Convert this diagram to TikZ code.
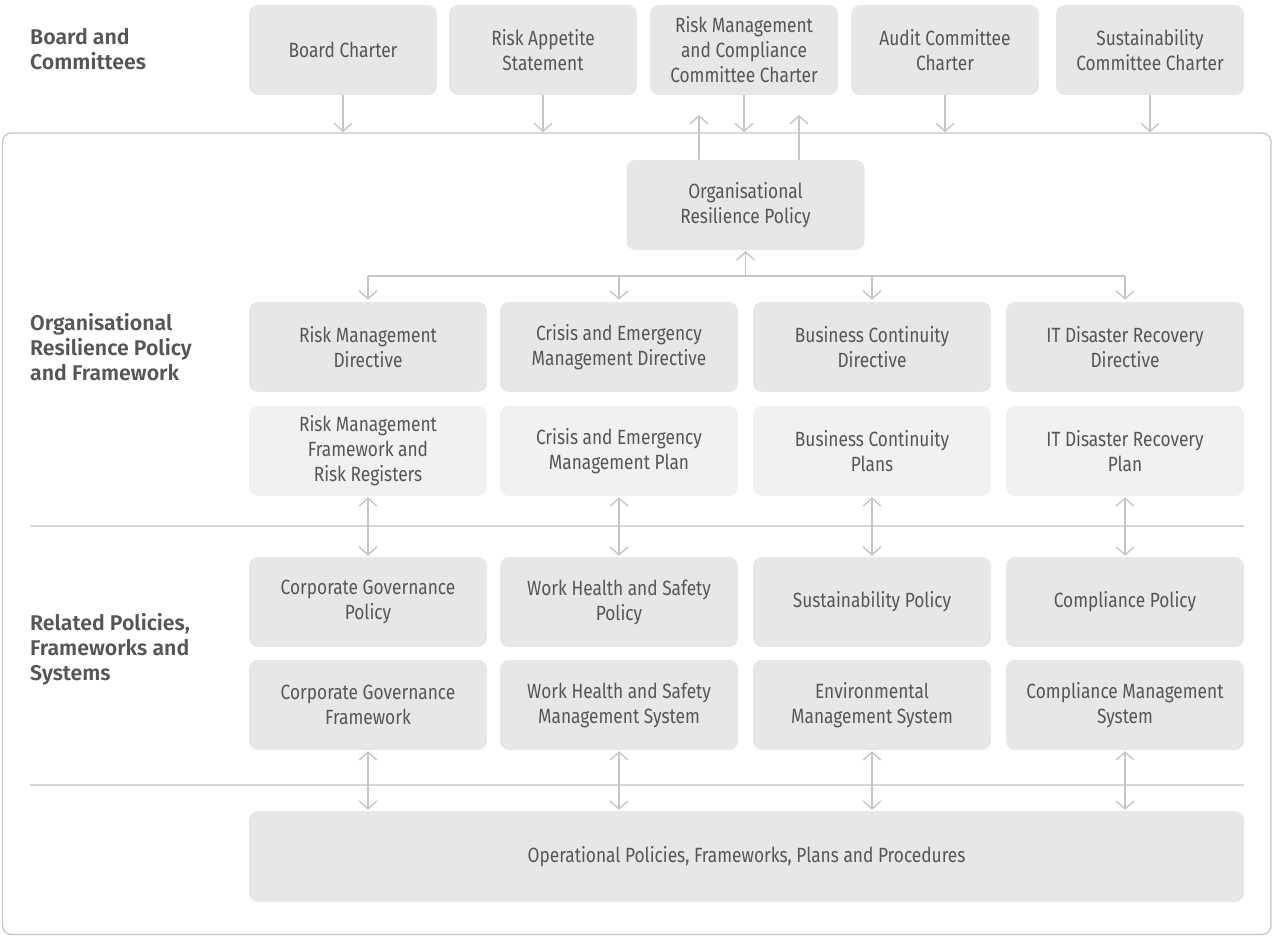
\documentclass[tikz,border=0pt]{standalone}
\usepackage{fontspec}
\setmainfont{Fira Sans}[FakeStretch=0.84]
\newfontfamily\labelfont{Fira Sans}[BoldFont={Fira Sans SemiBold}]
\usetikzlibrary{arrows.meta}
\definecolor{boxdark}{HTML}{E6E7E8}
\definecolor{boxlight}{HTML}{F1F1F2}
\definecolor{linegrey}{HTML}{C6C6C8}
\definecolor{txt}{HTML}{555658}
\tikzset{
  x=1pt, y=-1pt,
  box/.style={fill=boxdark, rounded corners=9pt, draw=none, align=center,
    text=txt, font=\fontsize{20.6}{25}\selectfont, inner sep=0pt},
  topbox/.style={box, minimum width=188pt, minimum height=90pt},
  colbox/.style={box, minimum width=238pt, minimum height=90pt},
  lightbox/.style={colbox, fill=boxlight},
  sectionlabel/.style={anchor=north west, align=left, text=txt, inner sep=0pt,
    font=\labelfont\bfseries\fontsize{21.3}{25}\selectfont},
  conn/.style={draw=linegrey, line width=1.4pt},
  arr/.style={conn, -{Straight Barb[length=8pt,width=18pt,line width=1.4pt]}},
  darr/.style={conn, {Straight Barb[length=8pt,width=18pt,line width=1.4pt]}-{Straight Barb[length=8pt,width=18pt,line width=1.4pt]}},
  sep/.style={draw=linegrey!70, line width=1.3pt}
}
\begin{document}
\begin{tikzpicture}
\useasboundingbox (0,0) rectangle (1273,936);

% outer frame of the organisation
\draw[draw=linegrey, line width=1.3pt, rounded corners=9pt] (2.5,133) rectangle (1271,934.5);

% section labels
\node[sectionlabel] (lblboard) at (30,28) {Board and\\Committees};
\node[sectionlabel] (lblorp) at (30,313) {Organisational\\Resilience Policy\\and Framework};
\node[sectionlabel] (lblrel) at (30,613) {Related Policies,\\Frameworks and\\Systems};

% board level documents
\node[topbox] (bc)  at (343,50)  {Board Charter};
\node[topbox] (ras) at (543,50)  {Risk Appetite\\Statement};
\node[topbox] (rmc) at (744,50)  {Risk Management\\and Compliance\\Committee Charter};
\node[topbox] (acc) at (945,50)  {Audit Committee\\Charter};
\node[topbox] (scc) at (1150,50) {Sustainability\\Committee Charter};

% central policy
\node[colbox] (orp) at (745.5,205) {Organisational\\Resilience Policy};

% directives
\node[colbox] (d1) at (368,347)  {Risk Management\\Directive};
\node[colbox] (d2) at (619,347)  {Crisis and Emergency\\Management Directive};
\node[colbox] (d3) at (872,347)  {Business Continuity\\Directive};
\node[colbox] (d4) at (1125,347) {IT Disaster Recovery\\Directive};

% plans
\node[lightbox] (p1) at (368,451)  {Risk Management\\Framework and\\Risk Registers};
\node[lightbox] (p2) at (619,451)  {Crisis and Emergency\\Management Plan};
\node[lightbox] (p3) at (872,451)  {Business Continuity\\Plans};
\node[lightbox] (p4) at (1125,451) {IT Disaster Recovery\\Plan};

% related policies
\node[colbox] (r1) at (368,602)  {Corporate Governance\\Policy};
\node[colbox] (r2) at (619,602)  {Work Health and Safety\\Policy};
\node[colbox] (r3) at (872,602)  {Sustainability Policy};
\node[colbox] (r4) at (1125,602) {Compliance Policy};

% related frameworks and systems
\node[colbox] (s1) at (368,705)  {Corporate Governance\\Framework};
\node[colbox] (s2) at (619,705)  {Work Health and Safety\\Management System};
\node[colbox] (s3) at (872,705)  {Environmental\\Management System};
\node[colbox] (s4) at (1125,705) {Compliance Management\\System};

% operational level
\node[box, minimum width=995pt, minimum height=91pt] (ops) at (746.5,856.5)
  {Operational Policies, Frameworks, Plans and Procedures};

% section separators
\coordinate (sepAl) at (30,526);   \coordinate (sepAr) at (1244,526);
\coordinate (sepBl) at (30,785);   \coordinate (sepBr) at (1244,785);
\draw[sep] (sepAl) -- (sepAr);
\draw[sep] (sepBl) -- (sepBr);

% board documents flow into the organisation
\foreach \n in {bc,ras,rmc,acc,scc}
  \draw[arr] (\n.south) -- ++(0,37);

% policy reports up to the committee
\coordinate (upL) at (699,115);
\coordinate (upR) at (799,115);
\draw[arr] (orp.north -| upL) -- (upL);
\draw[arr] (orp.north -| upR) -- (upR);

% distribution bus from the policy to the directives
\coordinate (bus) at (745.5,276);
\draw[conn] (d1.north |- bus) -- (d4.north |- bus);
\draw[arr] (bus) -- ([yshift=-1pt]orp.south);
\foreach \n in {d1,d2,d3,d4}
  \draw[arr] (\n.north |- bus) -- ([yshift=2pt]\n.north);

% two-way links between the levels
\foreach \a/\b in {p1/r1,p2/r2,p3/r3,p4/r4}
  \draw[darr] ([yshift=-1pt]\a.south) -- ([yshift=1pt]\b.north);
\foreach \a in {s1,s2,s3,s4}
  \draw[darr] ([yshift=-1pt]\a.south) -- ([yshift=1pt]\a.south |- ops.north);
\end{tikzpicture}
\end{document}
